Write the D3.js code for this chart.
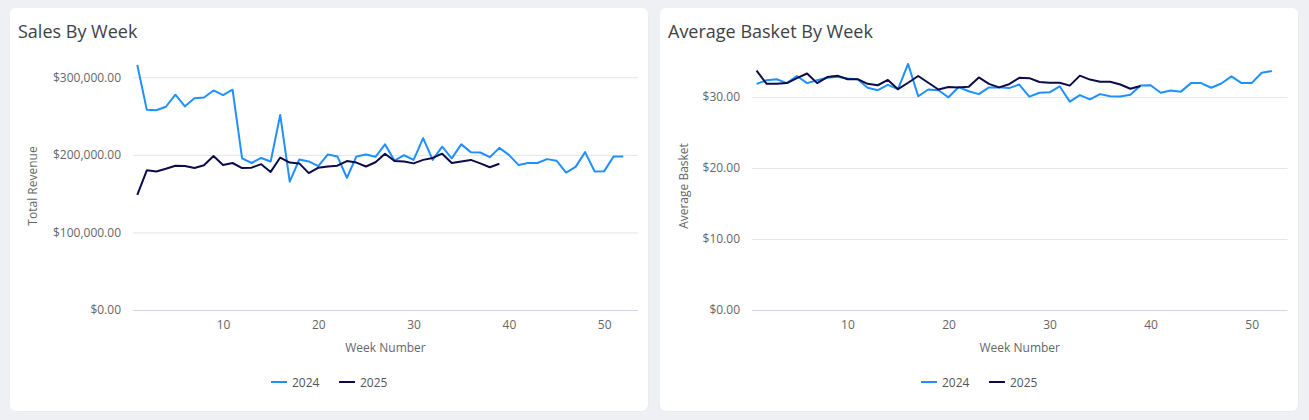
<!DOCTYPE html>
<html>
<head>
<meta charset="utf-8">
<script src="https://cdn.jsdelivr.net/npm/d3@7"></script>
<style>
  html, body { margin: 0; padding: 0; background: #eef0f3; }
  body { width: 1309px; height: 420px; overflow: hidden; font-family: "Open Sans", sans-serif; }
  svg { display: block; }
</style>
</head>
<body>
<svg width="1309" height="420"></svg>
<script>
var svg = d3.select("svg");

var weeks2024 = d3.range(1, 53);
var weeks2025 = d3.range(1, 40);

// total revenue, in thousands
var sales2024 = [316, 258, 257.5, 262, 277.5, 262.5, 273, 274, 283, 277, 284, 195.5,
  189.5, 196, 191.5, 251.5, 165.5, 194, 191.5, 185.5, 200.5, 198, 170.5, 198, 200.5, 197.5,
  213.5, 192.5, 199.5, 193.5, 221.5, 193.5, 210.5, 195.5, 213.5, 203.5, 203, 197, 209,
  200, 187, 189.5, 189.5, 194.5, 192.5, 177, 184.5, 203.5, 178.5, 179, 198, 198];
var sales2025 = [148.5, 180, 178.5, 182, 186, 185.5, 183, 186.5, 198.5, 187, 189.5, 183,
  183.5, 188, 178, 196.5, 190, 189, 176.5, 183.5, 185, 186, 192, 190, 185, 190.5,
  201.5, 192, 191.5, 189, 193.5, 196, 201.5, 189.5, 191.5, 193.5, 189, 184, 188.5];

var basket2024 = [31.85, 32.35, 32.5, 31.95, 32.95, 31.95, 32.35, 32.7, 32.85, 32.6, 32.5, 31.3,
  30.95, 31.7, 31.1, 34.65, 30.1, 31.05, 30.95, 29.95, 31.4, 30.8, 30.4, 31.35, 31.35, 31.25,
  31.75, 30.05, 30.6, 30.65, 31.5, 29.35, 30.25, 29.65, 30.4, 30.1, 30.05, 30.3, 31.6,
  31.65, 30.6, 30.9, 30.75, 31.95, 31.95, 31.3, 31.9, 32.9, 31.95, 31.95, 33.4, 33.65];
var basket2025 = [33.7, 31.85, 31.85, 31.95, 32.65, 33.3, 31.95, 32.8, 33.0, 32.5, 32.5, 31.85,
  31.65, 32.4, 31.1, 32.0, 32.95, 32.0, 31.05, 31.4, 31.35, 31.45, 32.75, 31.85, 31.35, 31.8,
  32.7, 32.65, 32.1, 32.0, 32.0, 31.6, 33.0, 32.45, 32.15, 32.15, 31.75, 31.15, 31.55];

var seriesNames = ["2024", "2025"];
var seriesColors = ["#1e90ff", "#0b0b4a"];

var xTicks = [10, 20, 30, 40, 50];
var salesTicks = [0, 100, 200, 300];
var basketTicks = [0, 10, 20, 30];

var money = d3.format("$,.2f");

function drawChart(cfg) {
  var g = svg.append("g");

  // card
  g.append("rect")
    .attr("x", cfg.cardX + 0.5).attr("y", 9.5)
    .attr("width", 638).attr("height", 402)
    .attr("rx", 6)
    .attr("fill", "#000").attr("opacity", 0.04)
  g.append("rect")
    .attr("x", cfg.cardX).attr("y", 8)
    .attr("width", 638).attr("height", 403)
    .attr("rx", 6)
    .attr("fill", "#fff")

  g.append("text")
    .attr("x", cfg.cardX + 8).attr("y", 38)
    .attr("font-size", 18).attr("fill", "#3d4247")
    .text(cfg.title)

  var x = d3.scaleLinear().domain([0.55, 53.55]).range([cfg.left, cfg.right]);
  var y = d3.scaleLinear().domain(cfg.yDomain).range([310, 54]);

  // grid
  g.append("g")
    .attr("transform", "translate(" + cfg.left + ",0)")
    .call(d3.axisLeft(y).tickValues(cfg.yTicks).tickSize(-(cfg.right - cfg.left)).tickFormat(""))
    .call(function(a) {
      a.select(".domain").remove();
      a.selectAll("line").attr("stroke", "#e6e6e6");
      a.selectAll(".tick").filter(function(d) { return d === 0; }).select("line").attr("stroke", "#ccd6eb");
    })

  // y labels
  g.append("g")
    .attr("transform", "translate(" + (cfg.left - 9) + ",0)")
    .call(d3.axisLeft(y).tickValues(cfg.yTicks).tickSize(0).tickFormat(function(d) { return money(d * cfg.yMult); }))
    .call(function(a) {
      a.select(".domain").remove();
      a.selectAll("text").attr("font-family", "Open Sans").attr("font-size", 12).attr("fill", "#666");
    })

  // x labels
  g.append("g")
    .attr("transform", "translate(0,317)")
    .call(d3.axisBottom(x).tickValues(xTicks).tickSize(0))
    .call(function(a) {
      a.select(".domain").remove();
      a.selectAll("text").attr("font-family", "Open Sans").attr("font-size", 12).attr("fill", "#666");
    })

  g.append("text")
    .attr("x", (cfg.left + cfg.right) / 2).attr("y", 352)
    .attr("text-anchor", "middle")
    .attr("font-size", 12).attr("fill", "#666")
    .text("Week Number")

  g.append("text")
    .attr("transform", "translate(" + cfg.yTitleX + ",186) rotate(-90)")
    .attr("text-anchor", "middle")
    .attr("font-size", 12).attr("fill", "#666")
    .text(cfg.yTitle)

  var line = d3.line()
    .x(function(d) { return x(d[0]); })
    .y(function(d) { return y(d[1]); });

  cfg.series.forEach(function(s, i) {
    g.append("path")
      .datum(d3.zip(s.weeks, s.values))
      .attr("fill", "none")
      .attr("stroke", seriesColors[i])
      .attr("stroke-width", 2)
      .attr("stroke-linejoin", "round")
      .attr("d", line)
  })

  // legend, centred on the card
  var lg = g.append("g").attr("transform", "translate(" + (cfg.cardX + 261) + ",382)");
  seriesNames.forEach(function(name, i) {
    var item = lg.append("g").attr("transform", "translate(" + (i * 68) + ",0)");
    item.append("line")
      .attr("x1", 0).attr("x2", 16).attr("y1", 0).attr("y2", 0)
      .attr("stroke", seriesColors[i]).attr("stroke-width", 2)
    item.append("text")
      .attr("x", 21).attr("y", 4.5)
      .attr("font-size", 12).attr("fill", "#555")
      .text(name)
  })
}

drawChart({
  cardX: 10, title: "Sales By Week", yTitle: "Total Revenue", yTitleX: 37,
  left: 133, right: 638, yDomain: [0, 330], yTicks: salesTicks, yMult: 1000,
  series: [{weeks: weeks2024, values: sales2024}, {weeks: weeks2025, values: sales2025}]
});

drawChart({
  cardX: 660, title: "Average Basket By Week", yTitle: "Average Basket", yTitleX: 688,
  left: 752, right: 1287.5, yDomain: [0, 36.05], yTicks: basketTicks, yMult: 1,
  series: [{weeks: weeks2024, values: basket2024}, {weeks: weeks2025, values: basket2025}]
});
</script>
</body>
</html>
